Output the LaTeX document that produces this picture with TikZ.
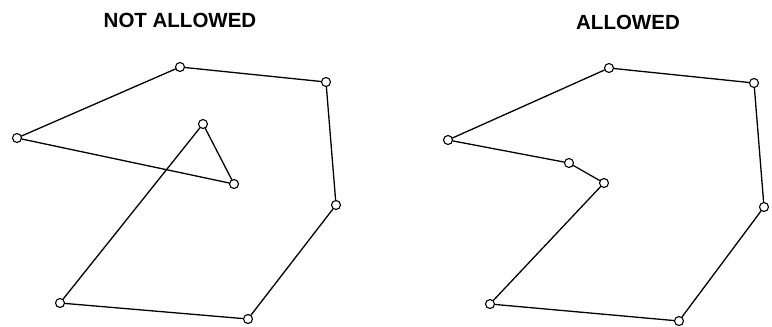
\documentclass[tikz,border=0pt]{standalone}
\usepackage{fontspec}
\setmainfont{Liberation Sans}
\tikzset{vtx/.style={circle,draw,fill=white,line width=1.1pt,inner sep=0pt,minimum size=9pt},
  ttl/.style={font=\fontsize{20.5}{24}\selectfont\bfseries,inner sep=0pt}}
\begin{document}
\begin{tikzpicture}[x=1pt,y=-1pt,line width=1.3pt,line cap=round,line join=round]
  \useasboundingbox (0,0) rectangle (772,327);
  \node[ttl] (Tl) at (180,20) {NOT ALLOWED};
  \node[vtx] (Hl) at (17,138) {}; \node[vtx] (Al) at (180,67) {};
  \node[vtx] (Bl) at (326,82) {}; \node[vtx] (Cl) at (336,205) {};
  \node[vtx] (Dl) at (248,319) {}; \node[vtx] (El) at (60,303) {};
  \node[vtx] (Fl) at (203,124) {}; \node[vtx] (Gl) at (234,184) {};
  \draw (Hl)--(Al)--(Bl)--(Cl)--(Dl)--(El)--(Fl)--(Gl)--(Hl);
  \node[ttl] (Tr) at (628,22) {ALLOWED};
  \node[vtx] (Hr) at (448,140) {}; \node[vtx] (Ar) at (609,68) {};
  \node[vtx] (Br) at (754,83) {}; \node[vtx] (Cr) at (764,207) {};
  \node[vtx] (Dr) at (679,321) {}; \node[vtx] (Er) at (490,304) {};
  \node[vtx] (Fr) at (604,183) {}; \node[vtx] (Gr) at (569,163) {};
  \draw (Hr)--(Ar)--(Br)--(Cr)--(Dr)--(Er)--(Fr)--(Gr)--(Hr);
\end{tikzpicture}
\end{document}
